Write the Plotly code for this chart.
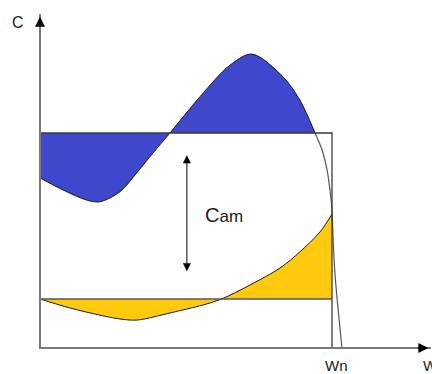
import plotly.graph_objects as go

# Speed axis is normalised to the rated speed Wn, torque axis to the rated torque.
W_N = 1.0
C_RATED = 1.0
C_LOW = 0.228

# Upper torque curve (filled part, up to where it meets the rated-torque line)
w_upper = [0.0, 0.079, 0.160, 0.205, 0.274, 0.331, 0.387, 0.445, 0.548, 0.651, 0.726, 0.832, 0.890, 0.942]
c_upper = [0.791, 0.735, 0.688, 0.680, 0.727, 0.814, 0.907, 1.0, 1.169, 1.316, 1.367, 1.262, 1.153, 1.0]

# Upper torque curve beyond the crossing: steep fall-off past Wn
w_tail = [0.942, 0.966, 0.983, 0.993, 1.0, 1.004, 1.010, 1.018, 1.034]
c_tail = [1.0, 0.921, 0.828, 0.735, 0.642, 0.50, 0.35, 0.22, 0.0]

# Lower (load) torque curve
w_lower = [0.0, 0.103, 0.205, 0.274, 0.332, 0.445, 0.558, 0.622, 0.719, 0.822, 0.890, 0.959, 1.0]
c_lower = [0.228, 0.186, 0.153, 0.135, 0.130, 0.163, 0.200, 0.228, 0.293, 0.372, 0.447, 0.540, 0.623]

# Accelerating-torque arrow
W_CAM = 0.503
C_CAM = [0.340, 0.907]

# Axis extents
W_AXIS_END = 1.339
C_AXIS_END = 1.553

BLUE = "#3F48CC"
YELLOW = "#FFC90E"
AXIS_GREY = "#7a7a7a"
LINE_DARK = "#3a3a3a"
FONT = "Liberation Sans, Arial, sans-serif"

fig = go.Figure()

# blue region between rated-torque line and upper curve
fig.add_trace(go.Scatter(x=[0.0, w_upper[-1]], y=[C_RATED, C_RATED], mode="lines",
                         line=dict(width=0), hoverinfo="skip"))
fig.add_trace(go.Scatter(x=w_upper, y=c_upper, mode="lines", fill="tonexty", fillcolor=BLUE,
                         line=dict(color="#1a1a1a", width=1, shape="spline", smoothing=0.9),
                         hoverinfo="skip"))

# yellow region between low line and lower curve
fig.add_trace(go.Scatter(x=[0.0, W_N], y=[C_LOW, C_LOW], mode="lines",
                         line=dict(width=0), hoverinfo="skip"))
fig.add_trace(go.Scatter(x=w_lower, y=c_lower, mode="lines", fill="tonexty", fillcolor=YELLOW,
                         line=dict(color="#1a1a1a", width=1, shape="spline", smoothing=0.9),
                         hoverinfo="skip"))

# tail of the upper curve
fig.add_trace(go.Scatter(x=w_tail, y=c_tail, mode="lines",
                         line=dict(color="#555555", width=1.2, shape="spline", smoothing=0.7),
                         hoverinfo="skip"))

# rated-torque box and low torque line
fig.add_trace(go.Scatter(x=[0.0, W_N, W_N], y=[C_RATED, C_RATED, 0.0], mode="lines",
                         line=dict(color=LINE_DARK, width=1.3), hoverinfo="skip"))
fig.add_trace(go.Scatter(x=[0.0, W_N], y=[C_LOW, C_LOW], mode="lines",
                         line=dict(color="#555555", width=1.3), hoverinfo="skip"))

# axes
fig.add_trace(go.Scatter(x=[0.0, 0.0, W_AXIS_END], y=[C_AXIS_END, 0.0, 0.0], mode="lines",
                         line=dict(color=AXIS_GREY, width=2), hoverinfo="skip"))

annotations = [
    # axis arrowheads
    dict(x=0.0, y=C_AXIS_END - 0.012, ax=0.0, ay=C_AXIS_END - 0.06, xref="x", yref="y",
         axref="x", ayref="y", text="", showarrow=True, arrowhead=2, arrowsize=2,
         arrowwidth=1, arrowcolor="black"),
    dict(x=W_AXIS_END - 0.009, y=0.0, ax=W_AXIS_END - 0.05, ay=0.0, xref="x", yref="y",
         axref="x", ayref="y", text="", showarrow=True, arrowhead=2, arrowsize=2,
         arrowwidth=1, arrowcolor="black"),
    # double-headed arrow for the accelerating torque
    dict(x=W_CAM, y=C_CAM[1] - 0.01, ax=W_CAM, ay=C_CAM[0] + 0.01, xref="x", yref="y",
         axref="x", ayref="y", text="", showarrow=True, arrowhead=2, startarrowhead=2,
         arrowside="end+start", arrowsize=1.6, startarrowsize=1.6, arrowwidth=1,
         arrowcolor="black"),
    # labels
    dict(x=0.558, y=0.619, xref="x", yref="y", xanchor="left", yanchor="middle",
         text="C<span style='font-size:17px'>am</span>", showarrow=False,
         font=dict(family=FONT, size=20, color="#1a1a1a")),
    dict(x=-0.077, y=1.513, xref="x", yref="y", xanchor="center", yanchor="middle",
         text="C", showarrow=False, font=dict(family=FONT, size=16, color="#1a1a1a")),
    dict(x=W_N + 0.016, y=-0.083, xref="x", yref="y", xanchor="center", yanchor="middle",
         text="Wn", showarrow=False, font=dict(family=FONT, size=15, color="#1a1a1a")),
    dict(x=1.338, y=-0.083, xref="x", yref="y", xanchor="center", yanchor="middle",
         text="W", showarrow=False, font=dict(family=FONT, size=15, color="#1a1a1a")),
]

fig.update_layout(
    width=432, height=374,
    margin=dict(l=0, r=0, t=0, b=0),
    paper_bgcolor="white", plot_bgcolor="white",
    showlegend=False,
    annotations=annotations,
    xaxis=dict(range=[-40 / 292, 392 / 292], visible=False, fixedrange=True),
    yaxis=dict(range=[-26 / 215, 348 / 215], visible=False, fixedrange=True),
)

fig.write_html("out.html")
